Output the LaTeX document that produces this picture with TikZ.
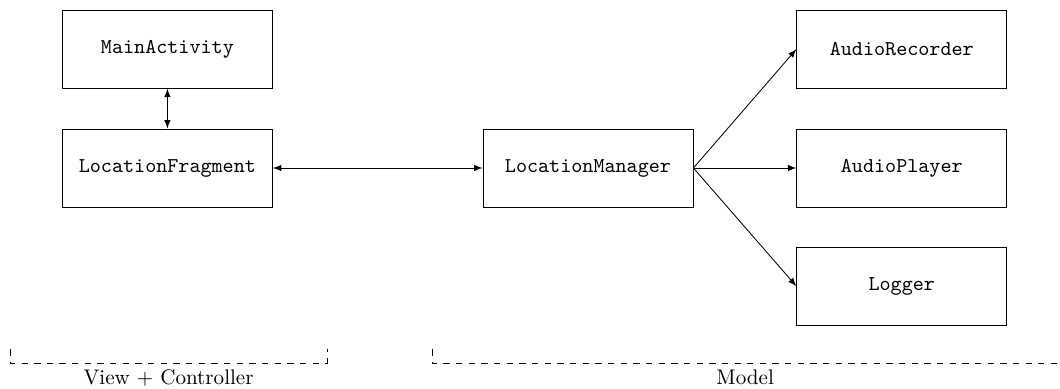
\documentclass[tikz,border=0pt]{standalone}
\usepackage{tikz}
\usetikzlibrary{positioning}

\begin{document}
\begin{tikzpicture}[
  cls/.style={draw, minimum width=3.5cm, minimum height=1.3cm, font=\ttfamily},
  group/.style={dashed},
  glabel/.style={below, inner sep=1pt},
  >=latex
]
\useasboundingbox (0,0) rectangle (17.667,-6.483);

\node[cls] (main) at (2.79,-0.82) {MainActivity};
\node[cls] (frag) at (2.79,-2.8) {LocationFragment};
\node[cls] (mgr) at (9.8,-2.8) {LocationManager};
\node[cls] (rec) at (15.03,-0.82) {AudioRecorder};
\node[cls] (play) at (15.03,-2.8) {AudioPlayer};
\node[cls] (log) at (15.03,-4.77) {Logger};

\draw[<->] (main) -- (frag);
\draw[<->] (frag) -- (mgr);
\draw[->] (mgr.east) -- (rec.west);
\draw[->] (mgr.east) -- (play.west);
\draw[->] (mgr.east) -- (log.west);

% groups
\coordinate (vcA) at (0.167,-5.82);
\coordinate (vcB) at (5.45,-5.82);
\coordinate (mA) at (7.2,-5.82);
\coordinate (mB) at (17.667,-6.05);
\draw[group] (vcA) -- ++(0,-0.23) -| (vcB);
\draw[group] (mA) -- ++(0,-0.23) -- (mB);
\node[glabel] (vcl) at (2.81,-6.12) {View + Controller};
\node[glabel] (ml) at (12.42,-6.12) {Model};

\end{tikzpicture}
\end{document}
